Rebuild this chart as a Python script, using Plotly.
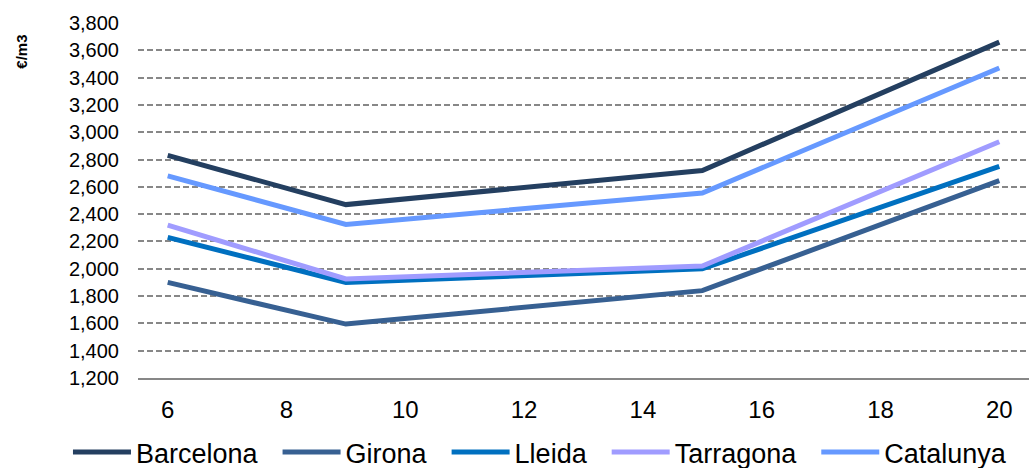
import plotly.graph_objects as go

# Data
x_vals = [6, 9, 15, 20]
barcelona = [2830, 2470, 2720, 3660]
girona = [1900, 1595, 1840, 2645]
lleida = [2230, 1900, 2000, 2750]
tarragona = [2320, 1925, 2020, 2930]
catalunya = [2680, 2325, 2555, 3470]

series = [
    ("Barcelona", barcelona, "#243F60"),
    ("Girona", girona, "#376092"),
    ("Lleida", lleida, "#0070C0"),
    ("Tarragona", tarragona, "#A09CFF"),
    ("Catalunya", catalunya, "#6699FF"),
]

fig = go.Figure()
for name, values, color in series:
    fig.add_trace(
        go.Scatter(
            x=x_vals,
            y=values,
            mode="lines",
            # trailing spaces widen the gap between legend entries
            name=name + "\u00a0\u00a0",
            line=dict(color=color, width=5),
        )
    )

grid_color = "#878787"

fig.update_layout(
    width=1029,
    height=468,
    margin=dict(l=138, r=0, t=23, b=90, autoexpand=False),
    plot_bgcolor="white",
    paper_bgcolor="white",
    font=dict(family="Liberation Sans, Arial, sans-serif", color="black"),
    xaxis=dict(
        range=[5.5, 20.5],
        tickvals=[6, 8, 10, 12, 14, 16, 18, 20],
        showgrid=False,
        zeroline=False,
        showline=True,
        linecolor=grid_color,
        linewidth=1.5,
        ticks="",
        ticklabelstandoff=9,
        tickfont=dict(size=24),
    ),
    yaxis=dict(
        range=[1200, 3800],
        tickvals=list(range(1200, 3801, 200)),
        tickformat=",d",
        showgrid=True,
        gridcolor=grid_color,
        gridwidth=1.5,
        griddash="6px,3px",
        zeroline=False,
        ticks="",
        ticklabelstandoff=18,
        tickfont=dict(size=20),
    ),
    showlegend=True,
    legend=dict(
        orientation="h",
        x=-0.0786,
        xanchor="left",
        y=-0.21,
        yanchor="middle",
        font=dict(size=27),
        itemwidth=58,
        bgcolor="rgba(0,0,0,0)",
    ),
    annotations=[
        dict(
            text="<b>€/m3</b>",
            xref="paper",
            yref="paper",
            x=-0.131,
            y=0.92,
            xanchor="center",
            yanchor="middle",
            textangle=-90,
            showarrow=False,
            font=dict(size=15),
        )
    ],
)

fig.write_html(
    "out.html",
    config={"displayModeBar": False},
    post_script="document.body.style.margin='0';",
)
